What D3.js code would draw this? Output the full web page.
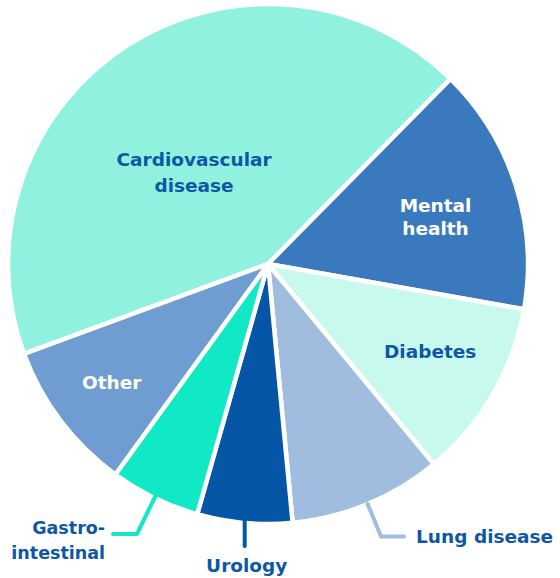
<!DOCTYPE html>
<html>
<head>
<meta charset="utf-8">
<title>Disease share pie</title>
<script src="https://cdn.jsdelivr.net/npm/d3@7"></script>
<style>
    body { margin: 0; background: #fff; }
    svg { display: block; }
    .lbl { font-family: "DejaVu Sans", sans-serif; font-weight: 700; }
</style>
</head>
<body>
<svg id="chart" width="560" height="578"></svg>
<script>
// slices, clockwise starting from the lower-left edge of the big one
const categories = ["Cardiovascular disease", "Mental health", "Diabetes", "Lung disease", "Urology", "Gastro-intestinal", "Other"];
const shares = [43, 15.4, 11.2, 9.5, 5.9, 5.6, 9.4];
const labelLines = [["Cardiovascular", "disease"], ["Mental", "health"], ["Diabetes"], ["Lung disease"], ["Urology"], ["Gastro-", "intestinal"], ["Other"]];
const colors = ["#90f2de", "#3b79bf", "#c8f9ee", "#a0bde0", "#0656a8", "#10e8c6", "#6f9dd1"];

const textBlue = "#0f57a6";
const cx = 268, cy = 264, R = 260;
const fs = 18.5;

const svg = d3.select("#chart");
const g = svg.append("g").attr("transform", `translate(${cx},${cy})`);

const start = -110.2 * Math.PI / 180;
const pie = d3.pie().sort(null).value(d => d).startAngle(start).endAngle(start + 2 * Math.PI);
const arcs = pie(shares);
const arc = d3.arc().innerRadius(0).outerRadius(R);

g.selectAll("path.slice")
    .data(arcs)
    .join("path")
    .attr("class", "slice")
    .attr("d", arc)
    .attr("fill", (d, i) => colors[i])
    .attr("stroke", "#fff")
    .attr("stroke-width", 4.5)
    .attr("stroke-linejoin", "round");

const mid = d => (d.startAngle + d.endAngle) / 2;
const polar = (r, a) => [r * Math.sin(a), -r * Math.cos(a)];

function writeLabel(lines, x, y, anchor, fill, lh, size) {
    const t = g.append("text")
        .attr("class", "lbl")
        .attr("font-size", size)
        .attr("fill", fill)
        .attr("text-anchor", anchor);
    const cap = size * 0.73;
    lines.forEach((s, k) => {
        t.append("tspan")
            .attr("x", x)
            .attr("y", y + (k - (lines.length - 1) / 2) * lh + cap / 2)
            .text(s);
    });
}

// labels inside the pie: [slice, radius, angle tweak in degrees, colour, line height]
const inside = [[0, 118, -6, textBlue, 26], [1, 174, 2, "#fff", 23], [2, 184, -2, textBlue, 25], [6, 196, 0, "#fff", 25]];
inside.forEach(([i, r, da, col, lh]) => {
    const [x, y] = polar(r, mid(arcs[i]) + da * Math.PI / 180);
    writeLabel(labelLines[i], x, y, "middle", col, lh, fs);
});

// leader lines for the thin slices at the bottom
function leader(pts, col) {
    g.append("path")
        .attr("d", d3.line()(pts))
        .attr("fill", "none")
        .attr("stroke", col)
        .attr("stroke-width", 4)
        .attr("stroke-linecap", "round")
        .attr("stroke-linejoin", "round");
}

// Lung disease: radial then right
{
    const a = mid(arcs[3]);
    const p0 = polar(R, a), p1 = polar(295, a);
    const p2 = [p1[0] + 23, p1[1]];
    leader([p0, p1, p2], colors[3]);
    writeLabel(labelLines[3], p2[0] + 12, p2[1], "start", textBlue, 25, fs);
}
// Urology: straight down
{
    const p0 = polar(R - 2, mid(arcs[4]));
    const p1 = [p0[0], p0[1] + 25];
    leader([p0, p1], colors[4]);
    writeLabel(labelLines[4], p0[0] + 2, p1[1] + 19, "middle", textBlue, 25, fs);
}
// Gastro-intestinal: radial then left
{
    const a = mid(arcs[5]);
    const p0 = polar(R - 2, a), p1 = polar(300, a);
    const p2 = [p1[0] - 24, p1[1]];
    leader([p0, p1, p2], colors[5]);
    writeLabel(labelLines[5], p2[0] - 8, p2[1] + 6, "end", textBlue, 25, 17.5);
}
</script>
</body>
</html>
